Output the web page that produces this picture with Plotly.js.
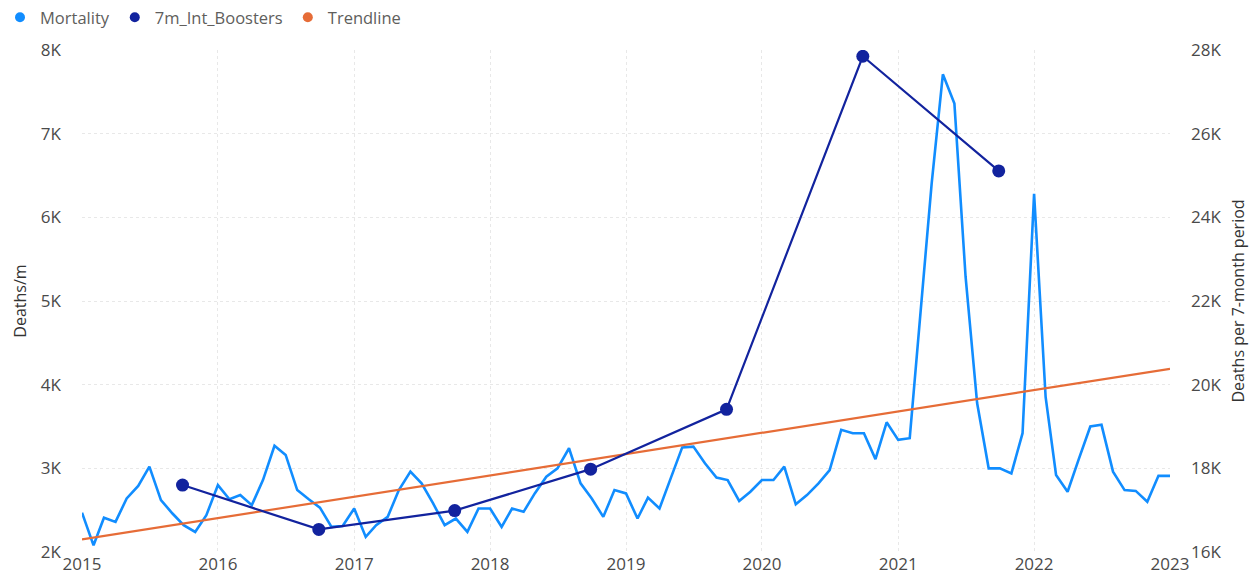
<!DOCTYPE html>
<html>
<head>
<meta charset="utf-8">
<script src="https://cdn.plot.ly/plotly-3.0.1.min.js"></script>
<style>
  html, body { margin: 0; padding: 0; background: #ffffff; }
  #chart { width: 1258px; height: 588px; }
</style>
</head>
<body>
<div id="chart"></div>
<script>
// ---- Data ----
const startYear = 2015;
const mortality = [
  2470, 2080, 2410, 2360, 2640, 2790, 3020, 2620, 2460, 2320, 2240, 2440,
  2800, 2630, 2680, 2560, 2860, 3270, 3160, 2740, 2630, 2530, 2300, 2310,
  2520, 2180, 2320, 2420, 2740, 2960, 2820, 2580, 2320, 2400, 2240, 2520,
  2520, 2300, 2520, 2480, 2700, 2900, 3000, 3240, 2820, 2640, 2420, 2740,
  2700, 2400, 2650, 2520, 2880, 3250, 3260, 3060, 2890, 2860, 2610, 2720,
  2860, 2860, 3020, 2570, 2680, 2820, 2980, 3460, 3420, 3420, 3110, 3550,
  3340, 3360, 4810, 6410, 7710, 7360, 5290, 3780, 3000, 3000, 2940, 3420,
  6280, 3850, 2920, 2720, 3110, 3500, 3520, 2960, 2740, 2730, 2600, 2910,
  2910
];
const boosterDates = ['2015-09-28', '2016-09-28', '2017-09-28', '2018-09-28', '2019-09-28', '2020-09-28', '2021-09-28'];
const boosters = [17600, 16540, 16990, 17980, 19410, 27850, 25110];
const trendDates = ['2015-01-01', '2023-01-01'];
const trend = [2150, 4190];
const leftTicks = [2000, 3000, 4000, 5000, 6000, 7000, 8000];
const leftTickText = ['2K', '3K', '4K', '5K', '6K', '7K', '8K'];
const rightTicks = [16000, 18000, 20000, 22000, 24000, 26000, 28000];
const rightTickText = ['16K', '18K', '20K', '22K', '24K', '26K', '28K'];
const seriesNames = ['Mortality', '7m_Int_Boosters', 'Trendline'];
const colors = ['#118DFF', '#12239E', '#E66C37'];

// month-start dates for the monthly series
const monthDates = mortality.map((_, i) => {
  const y = startYear + Math.floor(i / 12);
  const m = (i % 12) + 1;
  return y + '-' + String(m).padStart(2, '0') + '-01';
});

const font = '"Segoe UI", "Open Sans", "Noto Sans", sans-serif';
const textColor = '#4a4a4a';

const traces = [
  {
    x: monthDates, y: mortality, type: 'scatter', mode: 'lines',
    name: seriesNames[0], showlegend: false,
    line: { color: colors[0], width: 2.6 }, yaxis: 'y'
  },
  {
    x: trendDates, y: trend, type: 'scatter', mode: 'lines',
    name: seriesNames[2], showlegend: false,
    line: { color: colors[2], width: 2.2 }, yaxis: 'y'
  },
  {
    x: boosterDates, y: boosters, type: 'scatter', mode: 'lines+markers',
    name: seriesNames[1], showlegend: false,
    line: { color: colors[1], width: 2.2 },
    marker: { color: colors[1], size: 13 }, yaxis: 'y2'
  }
];
// legend entries (circle swatches like the reference)
seriesNames.forEach((n, k) => {
  traces.push({
    x: [null], y: [null], type: 'scatter', mode: 'markers', name: n,
    marker: { color: colors[k], size: 10, symbol: 'circle' }, showlegend: true
  });
});

const layout = {
  width: 1258, height: 588,
  margin: { l: 82, r: 88, t: 50, b: 36, pad: 0 },
  paper_bgcolor: '#ffffff', plot_bgcolor: '#ffffff',
  font: { family: font, color: textColor, size: 16 },
  showlegend: true,
  legend: {
    orientation: 'h', xref: 'container', yref: 'container',
    x: -0.006, y: 1.0, xanchor: 'left', yanchor: 'top',
    font: { family: font, size: 16.5, color: '#605E5C' },
    itemwidth: 30, tracegroupgap: 0, bgcolor: 'rgba(0,0,0,0)'
  },
  xaxis: {
    type: 'date',
    range: ['2015-01-01', '2023-01-01'],
    dtick: 'M12', tick0: '2015-01-01', tickformat: '%Y',
    showgrid: true, gridcolor: '#e8e8e8', griddash: 'dot', gridwidth: 1,
    zeroline: false, showline: false, ticks: '',
    tickfont: { family: font, size: 17, color: textColor }
  },
  yaxis: {
    range: [2000, 8000],
    tickvals: leftTicks, ticktext: leftTickText,
    showgrid: true, gridcolor: '#e8e8e8', griddash: 'dot', gridwidth: 1,
    zeroline: false, showline: false, ticks: '',
    ticklabelstandoff: 20,
    tickfont: { family: font, size: 17, color: textColor },
    title: { text: 'Deaths/m', standoff: 10, font: { family: font, size: 16, color: '#333333' } }
  },
  yaxis2: {
    overlaying: 'y', side: 'right',
    range: [16000, 28000],
    tickvals: rightTicks, ticktext: rightTickText,
    showgrid: false, zeroline: false, showline: false, ticks: '',
    ticklabelstandoff: 20,
    tickfont: { family: font, size: 17, color: textColor },
    title: { text: 'Deaths per 7-month period', standoff: 12, font: { family: font, size: 16, color: '#333333' } }
  }
};

Plotly.newPlot('chart', traces, layout, { displayModeBar: false, staticPlot: true });
</script>
</body>
</html>
